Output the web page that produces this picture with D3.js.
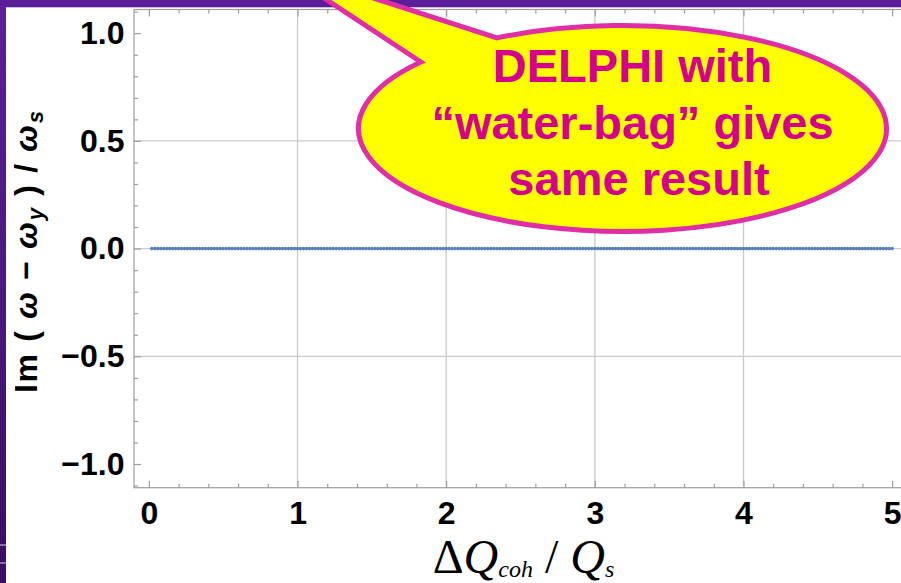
<!DOCTYPE html>
<html>
<head>
<meta charset="utf-8">
<script src="https://cdn.jsdelivr.net/npm/d3@7"></script>
<style>
  html, body { margin: 0; padding: 0; background: #fff; overflow: hidden; }
  svg { display: block; }
</style>
</head>
<body>
<svg id="chart" width="901" height="583"></svg>
<script>
// Coherent tune shift scan (ΔQ_coh / Q_s) and the resulting growth rate Im(ω − ω_y)/ω_s
const dqCoh = [
  0.02,0.04,0.06,0.08,0.10,0.12,0.14,0.16,0.18,0.20,
  0.22,0.24,0.26,0.28,0.30,0.32,0.34,0.36,0.38,0.40,
  0.42,0.44,0.46,0.48,0.50,0.52,0.54,0.56,0.58,0.60,
  0.62,0.64,0.66,0.68,0.70,0.72,0.74,0.76,0.78,0.80,
  0.82,0.84,0.86,0.88,0.90,0.92,0.94,0.96,0.98,1.00,
  1.02,1.04,1.06,1.08,1.10,1.12,1.14,1.16,1.18,1.20,
  1.22,1.24,1.26,1.28,1.30,1.32,1.34,1.36,1.38,1.40,
  1.42,1.44,1.46,1.48,1.50,1.52,1.54,1.56,1.58,1.60,
  1.62,1.64,1.66,1.68,1.70,1.72,1.74,1.76,1.78,1.80,
  1.82,1.84,1.86,1.88,1.90,1.92,1.94,1.96,1.98,2.00,
  2.02,2.04,2.06,2.08,2.10,2.12,2.14,2.16,2.18,2.20,
  2.22,2.24,2.26,2.28,2.30,2.32,2.34,2.36,2.38,2.40,
  2.42,2.44,2.46,2.48,2.50,2.52,2.54,2.56,2.58,2.60,
  2.62,2.64,2.66,2.68,2.70,2.72,2.74,2.76,2.78,2.80,
  2.82,2.84,2.86,2.88,2.90,2.92,2.94,2.96,2.98,3.00,
  3.02,3.04,3.06,3.08,3.10,3.12,3.14,3.16,3.18,3.20,
  3.22,3.24,3.26,3.28,3.30,3.32,3.34,3.36,3.38,3.40,
  3.42,3.44,3.46,3.48,3.50,3.52,3.54,3.56,3.58,3.60,
  3.62,3.64,3.66,3.68,3.70,3.72,3.74,3.76,3.78,3.80,
  3.82,3.84,3.86,3.88,3.90,3.92,3.94,3.96,3.98,4.00,
  4.02,4.04,4.06,4.08,4.10,4.12,4.14,4.16,4.18,4.20,
  4.22,4.24,4.26,4.28,4.30,4.32,4.34,4.36,4.38,4.40,
  4.42,4.44,4.46,4.48,4.50,4.52,4.54,4.56,4.58,4.60,
  4.62,4.64,4.66,4.68,4.70,4.72,4.74,4.76,4.78,4.80,
  4.82,4.84,4.86,4.88,4.90,4.92,4.94,4.96,4.98,5.00
];
const imShift = [
  0,0,0,0,0,0,0,0,0,0, 0,0,0,0,0,0,0,0,0,0, 0,0,0,0,0,0,0,0,0,0,
  0,0,0,0,0,0,0,0,0,0, 0,0,0,0,0,0,0,0,0,0, 0,0,0,0,0,0,0,0,0,0,
  0,0,0,0,0,0,0,0,0,0, 0,0,0,0,0,0,0,0,0,0, 0,0,0,0,0,0,0,0,0,0,
  0,0,0,0,0,0,0,0,0,0, 0,0,0,0,0,0,0,0,0,0, 0,0,0,0,0,0,0,0,0,0,
  0,0,0,0,0,0,0,0,0,0, 0,0,0,0,0,0,0,0,0,0, 0,0,0,0,0,0,0,0,0,0,
  0,0,0,0,0,0,0,0,0,0, 0,0,0,0,0,0,0,0,0,0, 0,0,0,0,0,0,0,0,0,0,
  0,0,0,0,0,0,0,0,0,0, 0,0,0,0,0,0,0,0,0,0, 0,0,0,0,0,0,0,0,0,0,
  0,0,0,0,0,0,0,0,0,0, 0,0,0,0,0,0,0,0,0,0, 0,0,0,0,0,0,0,0,0,0,
  0,0,0,0,0,0,0,0,0,0
];

const xTickValues = [0, 1, 2, 3, 4, 5];
const xTickLabels = ["0", "1", "2", "3", "4", "5"];
const yTickValues = [-1, -0.5, 0, 0.5, 1];
const yTickLabels = ["\u22121.0", "\u22120.5", "0.0", "0.5", "1.0"];
const xGridValues = [1, 2, 3, 4];
const yGridValues = [-0.5, 0, 0.5];
const calloutLines = ["DELPHI with", "\u201Cwater-bag\u201D gives", "same result"];

const W = 901, H = 583;
const frame = { left: 134, right: 907, top: 9.5, bottom: 487.7 };
const sans = "'Liberation Sans', Arial, Helvetica, sans-serif";
const serif = "'Liberation Serif', 'Times New Roman', serif";
const axisColor = "#9e9e9e";
const gridColor = "#cbcbcb";

const svg = d3.select("#chart");

// slide background: purple band along the top and left edges
const defs = svg.append("defs");
const grad = defs.append("linearGradient").attr("id", "sideBand")
  .attr("x1", 0).attr("y1", 0).attr("x2", 0).attr("y2", 1);
grad.append("stop").attr("offset", "0%").attr("stop-color", "#5c1f9c");
grad.append("stop").attr("offset", "100%").attr("stop-color", "#3a0e62");

svg.append("rect").attr("width", W).attr("height", H).attr("fill", "#ffffff");
svg.append("rect").attr("x", 0).attr("y", 0).attr("width", 6).attr("height", H).attr("fill", "url(#sideBand)");
svg.append("rect").attr("x", 0).attr("y", 0).attr("width", W).attr("height", 7.3).attr("fill", "#5a1e98");
[545, 563].forEach(yy => {
  svg.append("line").attr("x1", 0).attr("x2", 6).attr("y1", yy).attr("y2", yy)
    .attr("stroke", "#d8d0e8").attr("stroke-width", 1);
});

const x = d3.scaleLinear().domain([-0.1, 5.1]).range([frame.left, frame.right]);
const y = d3.scaleLinear().domain([-1.11, 1.11]).range([frame.bottom, frame.top]);

// grid lines
const grid = svg.append("g");
grid.selectAll(".gx").data(xGridValues).join("line")
  .attr("x1", d => x(d)).attr("x2", d => x(d))
  .attr("y1", frame.top).attr("y2", frame.bottom)
  .attr("stroke", gridColor).attr("stroke-width", 1.3);
grid.selectAll(".gy").data(yGridValues).join("line")
  .attr("x1", frame.left).attr("x2", frame.right)
  .attr("y1", d => y(d)).attr("y2", d => y(d))
  .attr("stroke", gridColor).attr("stroke-width", 1.3);

// data points
const points = dqCoh.map((d, i) => ({ dq: d, im: imShift[i] }));
svg.append("g").selectAll("circle").data(points).join("circle")
  .attr("cx", d => x(d.dq)).attr("cy", d => y(d.im))
  .attr("r", 1.8).attr("fill", "#5a7eb6");

// frame with inward ticks
function styleAxis(g) {
  g.select(".domain").remove();
  g.selectAll("line").attr("stroke", axisColor).attr("stroke-width", 1.2);
  g.selectAll("text").attr("font-family", sans).attr("font-weight", "bold")
    .attr("font-size", 32).attr("fill", "#000");
}
const xMinor = d3.range(1, 26).map(i => i / 5).filter(v => Math.abs(v - Math.round(v)) > 1e-6);
const yMinor = d3.range(-11, 12).map(i => i / 10).filter(v => Math.abs(v * 2 - Math.round(v * 2)) > 1e-6);

svg.append("g").attr("transform", `translate(0,${frame.bottom})`)
  .call(d3.axisBottom(x).tickValues(xMinor).tickFormat("").tickSize(-4)).call(styleAxis);
svg.append("g").attr("transform", `translate(0,${frame.bottom})`)
  .call(d3.axisBottom(x).tickValues(xTickValues).tickFormat((d, i) => xTickLabels[i]).tickSize(-7).tickPadding(13.5))
  .call(styleAxis);
svg.append("g").attr("transform", `translate(0,${frame.top})`)
  .call(d3.axisTop(x).tickValues(xMinor).tickFormat("").tickSize(-4)).call(styleAxis);
svg.append("g").attr("transform", `translate(0,${frame.top})`)
  .call(d3.axisTop(x).tickValues(xTickValues).tickFormat("").tickSize(-7)).call(styleAxis);
svg.append("g").attr("transform", `translate(${frame.left},0)`)
  .call(d3.axisLeft(y).tickValues(yMinor).tickFormat("").tickSize(-4)).call(styleAxis);
svg.append("g").attr("transform", `translate(${frame.left},0)`)
  .call(d3.axisLeft(y).tickValues(yTickValues).tickFormat((d, i) => yTickLabels[i]).tickSize(-7).tickPadding(9.5))
  .call(styleAxis);

svg.append("rect")
  .attr("x", frame.left).attr("y", frame.top)
  .attr("width", frame.right - frame.left).attr("height", frame.bottom - frame.top)
  .attr("fill", "none").attr("stroke", axisColor).attr("stroke-width", 1.2);

// y axis label: Im ( ω − ω_y ) / ω_s
const ylab = svg.append("text")
  .attr("transform", "translate(37,252) rotate(-90)")
  .attr("text-anchor", "middle")
  .attr("textLength", 282).attr("lengthAdjust", "spacing")
  .attr("font-family", sans).attr("font-weight", "bold").attr("font-size", 32).attr("fill", "#000");
ylab.append("tspan").text("Im ( ");
ylab.append("tspan").attr("font-style", "italic").text("\u03C9");
ylab.append("tspan").text(" \u2212 ");
ylab.append("tspan").attr("font-style", "italic").text("\u03C9");
ylab.append("tspan").attr("font-style", "italic").attr("font-size", 22).attr("dy", 6).text("y");
ylab.append("tspan").attr("dy", -6).text(" ) / ");
ylab.append("tspan").attr("font-style", "italic").text("\u03C9");
ylab.append("tspan").attr("font-style", "italic").attr("font-size", 22).attr("dy", 6).text("s");

// x axis label: ΔQ_coh / Q_s
const xlab = svg.append("text")
  .attr("x", 523.5).attr("y", 573)
  .attr("text-anchor", "middle")
  .attr("font-family", serif).attr("font-size", 48).attr("fill", "#000");
xlab.append("tspan").text("\u0394");
xlab.append("tspan").attr("font-style", "italic").text("Q");
xlab.append("tspan").attr("font-style", "italic").attr("font-size", 24).attr("dy", 4).text("coh");
xlab.append("tspan").attr("dy", -4).text(" / ");
xlab.append("tspan").attr("font-style", "italic").text("Q");
xlab.append("tspan").attr("font-style", "italic").attr("font-size", 24).attr("dy", 4).text("s");

// speech-bubble callout
const bubble = { cx: 622.5, cy: 128.5, rx: 264, ry: 103, tip: [277, -33], tA: -139.8, tB: -118.4 };
const onEllipse = t => {
  const r = t * Math.PI / 180;
  return [bubble.cx + bubble.rx * Math.cos(r), bubble.cy + bubble.ry * Math.sin(r)];
};
const pA = onEllipse(bubble.tA), pB = onEllipse(bubble.tB);
const bubblePath = d3.path();
bubblePath.moveTo(pA[0], pA[1]);
bubblePath.lineTo(bubble.tip[0], bubble.tip[1]);
bubblePath.lineTo(pB[0], pB[1]);
const bubbleD = bubblePath.toString() +
  `A${bubble.rx},${bubble.ry} 0 1 1 ${pA[0]},${pA[1]}Z`;
svg.append("path").attr("d", bubbleD)
  .attr("fill", "#ffff00").attr("stroke", "#e02ea6").attr("stroke-width", 5)
  .attr("stroke-linejoin", "miter");

const lineX = [632.5, 632.5, 639];
const lineY = [82, 138.5, 195];
svg.append("g").selectAll("text").data(calloutLines).join("text")
  .attr("x", (d, i) => lineX[i]).attr("y", (d, i) => lineY[i])
  .attr("text-anchor", "middle")
  .attr("font-family", sans).attr("font-weight", "bold").attr("font-size", 47)
  .attr("fill", "#d4008c")
  .text(d => d);
</script>
</body>
</html>
